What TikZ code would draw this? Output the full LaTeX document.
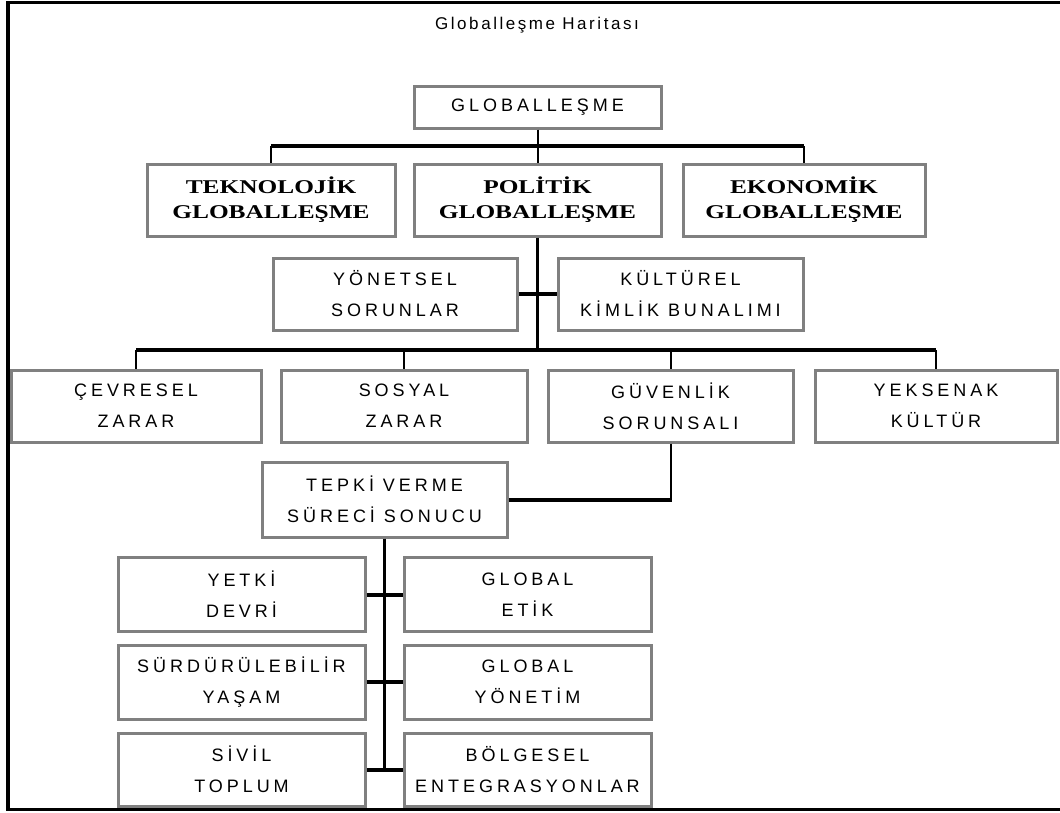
\documentclass[tikz,border=0pt]{standalone}
\usepackage{fontspec}
\setmainfont{Liberation Sans}
\newfontfamily\boxfont[LetterSpace=22]{Liberation Sans}
\newfontfamily\titlefont[LetterSpace=15]{Liberation Sans}
\newfontfamily\heavyfont[FakeStretch=1.3]{Liberation Serif}
\definecolor{boxgray}{RGB}{128,128,128}
\begin{document}
\begin{tikzpicture}[x=1pt,y=-1pt,
  box/.style={draw=boxgray,line width=3pt,fill=white,minimum width=246pt,minimum height=72pt,
    inner sep=0pt,align=center,font=\boxfont\fontsize{18}{31}\selectfont},
  heavybox/.style={box,font=\heavyfont\bfseries\fontsize{19.5}{25}\selectfont},
  link/.style={line width=2pt},
  bus/.style={line width=4.5pt},
  bar/.style={line width=4pt},
  framestyle/.style={line width=3.5pt,line join=miter}]
\useasboundingbox (0,0) rectangle (1060,812);
\fill[white] (0,0) rectangle (1060,812);
% frame
\draw[framestyle] (1062,2.5) -- (8,2.5) -- (8,809.5) -- (1062,809.5);
% title
\node[font=\titlefont\fontsize{17}{20}\selectfont] (title) at (537,25) {Globalleşme Haritası};
% level 0
\node[box,minimum height=42pt,minimum width=247pt] (glob) at (537.5,107) {GLOBALLEŞME};
% level 1
\node[heavybox,minimum width=248pt] (tek) at (271,200) {TEKNOLOJİK\\GLOBALLEŞME};
\node[heavybox,minimum width=247pt] (pol) at (537.5,200) {POLİTİK\\GLOBALLEŞME};
\node[heavybox,minimum width=242pt] (eko) at (804,200) {EKONOMİK\\GLOBALLEŞME};
% level 2
\node[box,minimum width=244pt] (yon) at (395,294) {YÖNETSEL\\SORUNLAR};
\node[box,minimum width=245pt] (kul) at (680.5,294) {KÜLTÜREL\\KİMLİK BUNALIMI};
% level 3
\node[box,minimum width=250pt] (cev) at (136,406) {ÇEVRESEL\\ZARAR};
\node[box,minimum width=246pt] (sos) at (404,406) {SOSYAL\\ZARAR};
\node[box,minimum width=245pt] (guv) at (670.5,406) {GÜVENLİK\\SORUNSALI};
\node[box,minimum width=242pt] (yek) at (936,406) {YEKSENAK\\KÜLTÜR};
% level 4
\node[box,minimum width=245pt,minimum height=75pt] (tep) at (384.5,499.5) {TEPKİ VERME\\SÜRECİ SONUCU};
% level 5
\node[box,minimum width=247pt,minimum height=74pt] (yet) at (241.5,594.5) {YETKİ\\DEVRİ};
\node[box,minimum width=247pt,minimum height=74pt] (etk) at (527.5,594.5) {GLOBAL\\ETİK};
\node[box,minimum width=247pt,minimum height=74pt] (sur) at (241.5,682) {SÜRDÜRÜLEBİLİR\\YAŞAM};
\node[box,minimum width=247pt,minimum height=74pt] (gyo) at (527.5,682) {GLOBAL\\YÖNETİM};
\node[box,minimum width=247pt,minimum height=73pt] (siv) at (241.5,769.5) {SİVİL\\TOPLUM};
\node[box,minimum width=247pt,minimum height=73pt] (bol) at (527.5,769.5) {BÖLGESEL\\ENTEGRASYONLAR};
% connectors level 0 -> 1
\coordinate (b1) at (537.5,146);
\draw[link] (glob.south) -- (b1);
\draw[bus] (tek.north |- b1) -- (eko.north |- b1);
\foreach \n in {tek,pol,eko} \draw[link] (\n.north |- b1) -- (\n.north);
% politik -> level 3 bus
\coordinate (b2) at (537.5,350);
\draw[line width=2.5pt] (pol.south) -- (b2);
\draw[bar] (yon.east) -- (kul.west);
\draw[bus] (cev.north |- b2) -- (yek.north |- b2);
\foreach \n in {cev,sos,guv,yek} \draw[link] (\n.north |- b2) -- (\n.north);
% guvenlik -> tepki
\coordinate (g1) at (guv.south |- tep.east);
\draw[link] (guv.south) -- ([yshift=-2pt]g1);
\draw[bar] (tep.east) -- ([xshift=1pt]g1);
% tepki -> level 5
\coordinate (t1) at (tep.south |- siv.east);
\draw[line width=2.5pt] (tep.south) -- (t1);
\draw[bar] (yet.east) -- (etk.west);
\draw[bar] (sur.east) -- (gyo.west);
\draw[bar] (siv.east) -- (bol.west);
\end{tikzpicture}
\end{document}
